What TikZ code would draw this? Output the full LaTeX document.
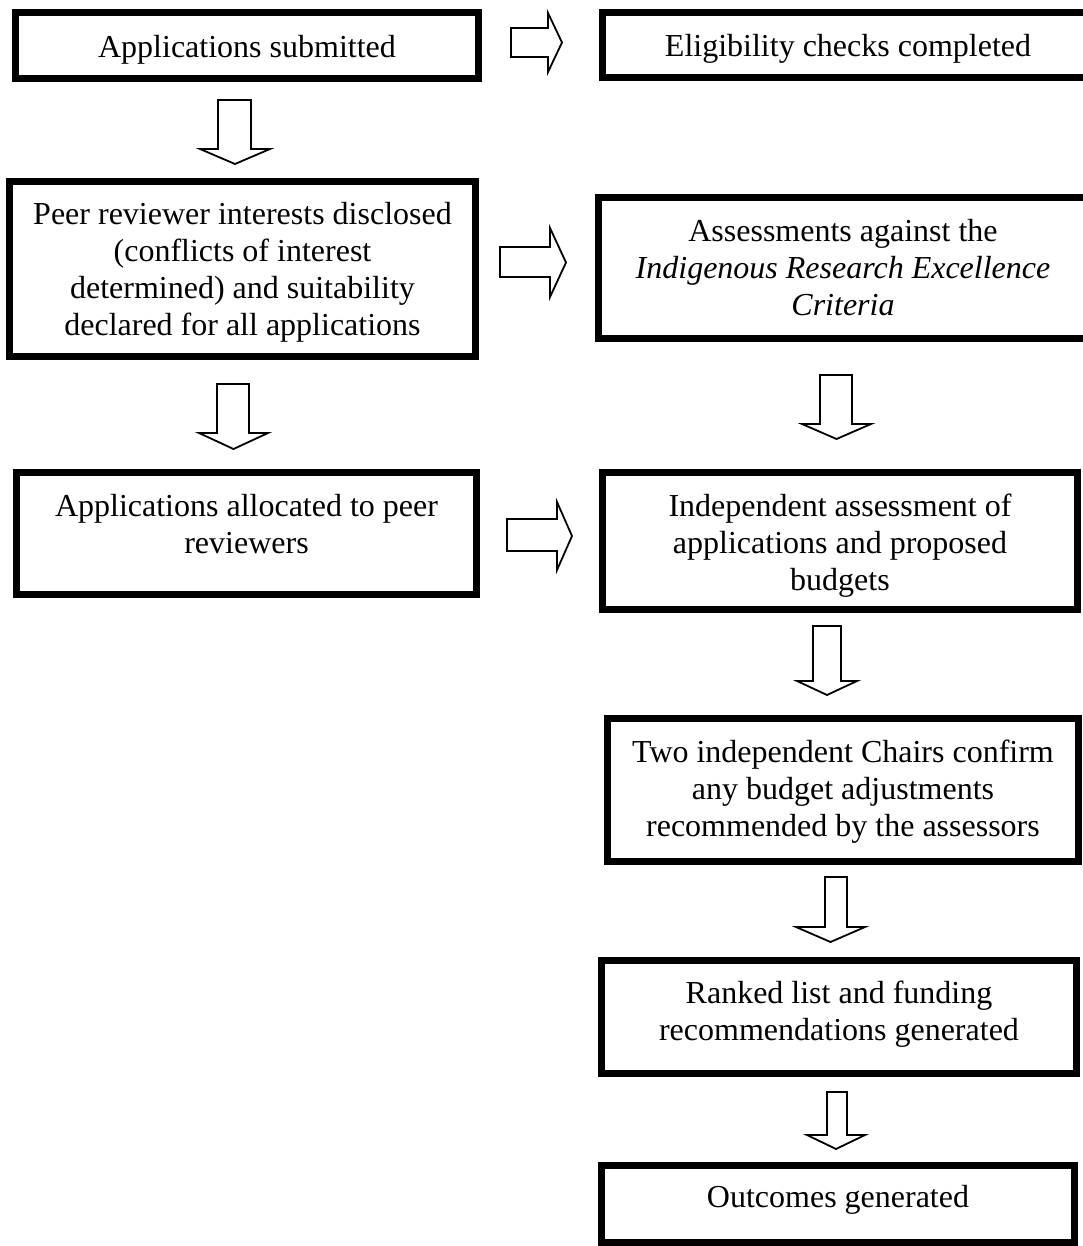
\documentclass[tikz,border=0pt]{standalone}
\usepackage{fontspec}
\setmainfont{Liberation Serif}
\begin{document}
\begin{tikzpicture}[x=1pt,y=-1pt,
  box/.style={draw=black, line width=7pt, inner sep=0pt, outer sep=0pt},
  txt/.style={font=\fontsize{32}{37}\selectfont, align=center, inner sep=0pt, outer sep=0pt},
  blockarrow/.style={draw=black, line width=1.8pt, fill=white, line join=miter}]
\useasboundingbox[fill=white] (0,0) rectangle (1082,1246);

% boxes
\node[box, minimum width=463pt, minimum height=66pt]  (A) at (247,45.5) {};
\node[box, minimum width=491pt, minimum height=65pt]  (B) at (848,45) {};
\node[box, minimum width=466pt, minimum height=175pt] (C) at (242.5,269) {};
\node[box, minimum width=489pt, minimum height=141pt] (D) at (843,268) {};
\node[box, minimum width=460pt, minimum height=122pt] (E) at (246.5,533.5) {};
\node[box, minimum width=475pt, minimum height=137pt] (F) at (840,541) {};
\node[box, minimum width=471pt, minimum height=143pt] (G) at (843,790) {};
\node[box, minimum width=475pt, minimum height=113pt] (H) at (839,1017) {};
\node[box, minimum width=473pt, minimum height=77pt]  (I) at (838,1204) {};

% texts
\node[txt] (tA) at (247,49.5) {Applications submitted};
\node[txt] (tB) at (848,48.5) {Eligibility checks completed};
\node[txt] (tC) at (242.5,272) {Peer reviewer interests disclosed\\(conflicts of interest\\determined) and suitability\\declared for all applications};
\node[txt] (tD) at (843,268) {Assessments against the\\\textit{Indigenous Research Excellence}\\\textit{Criteria}};
\node[txt] (tE) at (246.5,524.5) {Applications allocated to peer\\reviewers};
\node[txt] (tF) at (840,545.5) {Independent assessment of\\applications and proposed\\budgets};
\node[txt] (tG) at (843,791.5) {Two independent Chairs confirm\\any budget adjustments\\recommended by the assessors};
\node[txt] (tH) at (839,1014) {Ranked list and funding\\recommendations generated};
\node[txt] (tI) at (838,1199.5) {Outcomes generated};

% right block arrows
\draw[blockarrow] (511,28) -- (548,28) -- (548,13) -- (562,42.5) -- (548,72) -- (548,57) -- (511,57) -- cycle;
\draw[blockarrow] (500,247) -- (550,247) -- (550,228) -- (566,262.5) -- (550,297) -- (550,277) -- (500,277) -- cycle;
\draw[blockarrow] (507,519) -- (557,519) -- (557,502) -- (572,536) -- (557,570) -- (557,551) -- (507,551) -- cycle;

% down block arrows
\draw[blockarrow] (218,100) -- (251,100) -- (251,149) -- (270,149) -- (235,164) -- (200,149) -- (218,149) -- cycle;
\draw[blockarrow] (217,384) -- (249,384) -- (249,433) -- (268,433) -- (233.5,449) -- (199,433) -- (217,433) -- cycle;
\draw[blockarrow] (820,375) -- (852,375) -- (852,424) -- (871,424) -- (836.5,439) -- (802,424) -- (820,424) -- cycle;
\draw[blockarrow] (813,626) -- (841,626) -- (841,681) -- (857,681) -- (827,695) -- (797,681) -- (813,681) -- cycle;
\draw[blockarrow] (825,877) -- (847,877) -- (847,927) -- (865,927) -- (830.5,942) -- (796,927) -- (825,927) -- cycle;
\draw[blockarrow] (827,1092) -- (847,1092) -- (847,1135) -- (865,1135) -- (836,1149) -- (807,1135) -- (827,1135) -- cycle;
\end{tikzpicture}
\end{document}
